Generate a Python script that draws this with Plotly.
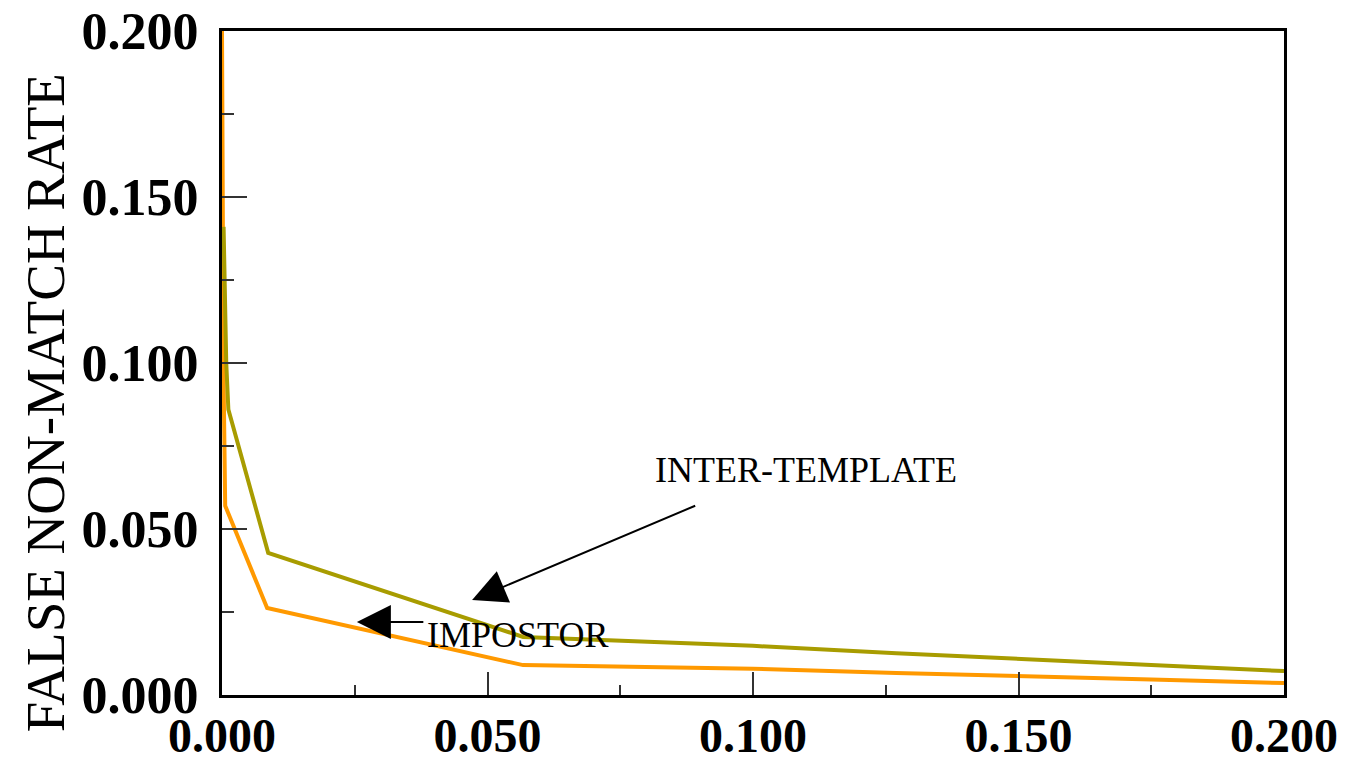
import plotly.graph_objects as go

impostor_x = [0.0, 0.0003, 0.0006, 0.0085, 0.0567, 0.080, 0.100, 0.127, 0.150, 0.175, 0.200]
impostor_y = [0.200, 0.095, 0.057, 0.0262, 0.0090, 0.0085, 0.0079, 0.0066, 0.0058, 0.0047, 0.0036]

inter_x = [0.0003, 0.0008, 0.0012, 0.0087, 0.0567, 0.0655, 0.100, 0.127, 0.150, 0.175, 0.200]
inter_y = [0.141, 0.100, 0.086, 0.0428, 0.0175, 0.0170, 0.0148, 0.0126, 0.0108, 0.0090, 0.0072]

tick_vals = [0.0, 0.05, 0.10, 0.15, 0.20]
tick_text = ["0.000", "0.050", "0.100", "0.150", "0.200"]

serif = "Liberation Serif, Times New Roman, serif"

fig = go.Figure()
fig.add_trace(go.Scatter(x=impostor_x, y=impostor_y, mode="lines",
                         line=dict(color="#FF9900", width=4), name="IMPOSTOR"))
fig.add_trace(go.Scatter(x=inter_x, y=inter_y, mode="lines",
                         line=dict(color="#A89C00", width=4), name="INTER-TEMPLATE"))

axis_common = dict(
    showgrid=False, zeroline=False, showline=True, linecolor="black", linewidth=3,
    mirror=True, ticks="inside", tickcolor="#333333", tickwidth=2, automargin=False,
    tickvals=tick_vals, ticktext=tick_text, ticklabeloverflow="allow",
)
fig.update_xaxes(range=[0, 0.2], ticklen=23,
                 minor=dict(ticks="inside", dtick=0.025, ticklen=10, tickcolor="#333333", tickwidth=2),
                 ticklabelstandoff=-4,
                 tickfont=dict(family=serif, size=48, color="black", weight="bold"),
                 **axis_common)
fig.update_yaxes(range=[0, 0.2], ticklen=25,
                 minor=dict(ticks="inside", dtick=0.025, ticklen=12, tickcolor="#333333", tickwidth=2),
                 ticklabelstandoff=10,
                 tickfont=dict(family=serif, size=52, color="black", weight="bold"),
                 **axis_common)

fig.add_annotation(x=0.110, y=0.0678, xref="x", yref="y", text="INTER-TEMPLATE",
                   showarrow=False, font=dict(family=serif, size=36, color="black"))
fig.add_annotation(x=0.0471, y=0.0286, ax=0.0894, ay=0.0572, xref="x", yref="y",
                   axref="x", ayref="y", text="", showarrow=True, arrowhead=2,
                   arrowsize=3.4, arrowwidth=2, arrowcolor="black")
fig.add_annotation(x=0.0382, y=0.0180, xref="x", yref="y", text="IMPOSTOR",
                   xanchor="left", showarrow=False, font=dict(family=serif, size=36, color="black"))
fig.add_annotation(x=0.0254, y=0.0220, ax=0.0382, ay=0.0220, xref="x", yref="y",
                   axref="x", ayref="y", text="", showarrow=True, arrowhead=2,
                   arrowsize=3.4, arrowwidth=2, arrowcolor="black")
fig.add_annotation(x=-0.1667, y=0.441, xref="paper", yref="paper", text="FALSE NON-MATCH RATE",
                   xanchor="center", yanchor="middle",
                   textangle=-90, showarrow=False, font=dict(family=serif, size=55, color="black"))

fig.update_layout(width=1338, height=756, plot_bgcolor="white", paper_bgcolor="white",
                  showlegend=False, margin=dict(l=214, r=62, t=23, b=69))
fig.write_html("out.html")
